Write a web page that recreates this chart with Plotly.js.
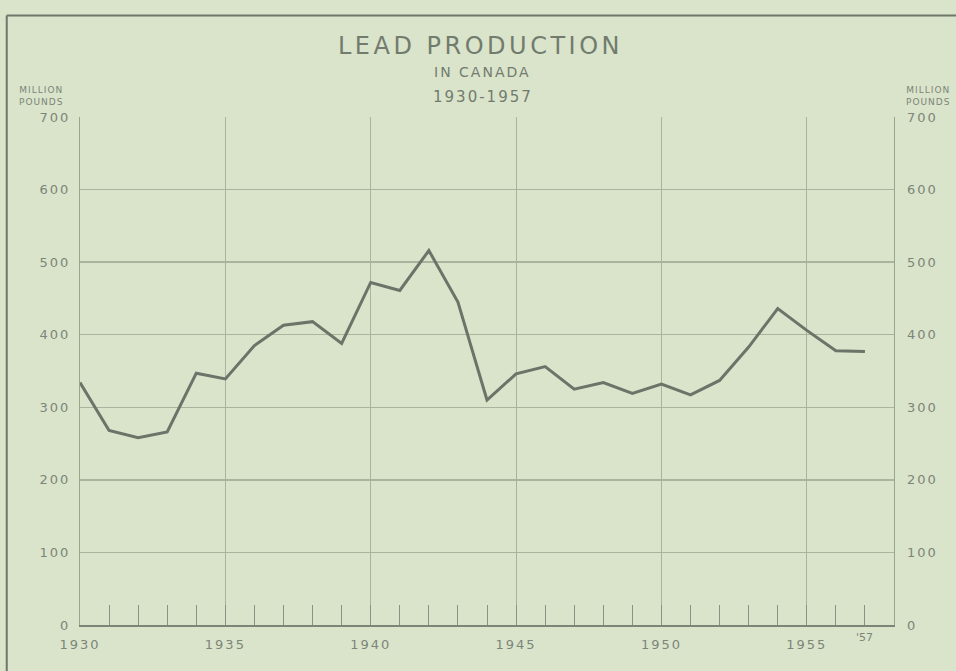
<!DOCTYPE html>
<html>
<head>
<meta charset="utf-8">
<script src="https://cdn.plot.ly/plotly-3.0.1.min.js"></script>
<style>
  html, body { margin: 0; padding: 0; background: #d9e4cb; }
  #chart { width: 956px; height: 671px; }
</style>
</head>
<body>
<div id="chart"></div>
<script>
// Data (million pounds)
const years = [1930,1931,1932,1933,1934,1935,1936,1937,1938,1939,1940,1941,1942,1943,
               1944,1945,1946,1947,1948,1949,1950,1951,1952,1953,1954,1955,1956,1957];
const production = [334,268,258,266,347,339,385,413,418,388,472,461,516,445,
                    310,346,356,325,334,319,332,317,337,383,436,406,378,377];

const xTickYears = years;
const xTickLabels = years.map(y => (y % 5 === 0 ? String(y) : ''));
const majorYears = [1935,1940,1945,1950,1955];
const yTicks = [0,100,200,300,400,500,600,700];
const yTickLabels = ['0','100','200','300','400','500','600','700'];

const sp = (t, px) => '<span style="letter-spacing:' + px + 'px">' + t + '</span>';

const ink = '#6c7368';
const gridCol = '#a9b49e';
const textCol = '#7d8579';
const bg = '#d9e4cb';
const fontFam = '"DejaVu Sans", "Liberation Sans", sans-serif';

const trace = {
  x: years, y: production, type: 'scatter', mode: 'lines',
  line: { color: ink, width: 3 }, xaxis: 'x', yaxis: 'y',
  hoverinfo: 'x+y'
};
const traceRight = {
  x: [years[0]], y: [production[0]], type: 'scatter', mode: 'lines',
  line: { width: 0 }, xaxis: 'x', yaxis: 'y2', showlegend: false, hoverinfo: 'skip'
};
const traceGrid = {
  x: [years[0]], y: [production[0]], type: 'scatter', mode: 'lines',
  line: { width: 0 }, xaxis: 'x2', yaxis: 'y', showlegend: false, hoverinfo: 'skip'
};

const layout = {
  width: 956, height: 671,
  paper_bgcolor: bg, plot_bgcolor: bg,
  margin: { l: 80, r: 62, t: 117, b: 46 },
  showlegend: false,
  font: { family: fontFam, color: textCol, size: 13 },
  xaxis: {
    range: [1930, 1958],
    tickvals: xTickYears, ticktext: xTickLabels.map(t => t ? sp(t, 2) : ''),
    ticks: 'inside', ticklen: 20, tickwidth: 1, tickcolor: '#8a9385',
    showgrid: false, zeroline: false,
    showline: true, linecolor: '#7c8577', linewidth: 2,
    tickfont: { size: 13, color: textCol, family: fontFam },
    ticklabelstandoff: 6
  },
  xaxis2: {
    range: [1930, 1958], overlaying: 'x', matches: 'x',
    tickvals: majorYears, showticklabels: false, ticks: '',
    showgrid: true, gridcolor: gridCol, gridwidth: 1,
    zeroline: false, showline: false
  },
  yaxis: {
    range: [0, 700],
    tickvals: yTicks, ticktext: yTickLabels.map(t => sp(t, 2)),
    ticks: '', showgrid: true, gridcolor: gridCol, gridwidth: 1.5,
    zeroline: false, showline: true, linecolor: '#9aa590', linewidth: 1, mirror: true,
    tickfont: { size: 13, color: textCol, family: fontFam },
    ticklabelstandoff: 6
  },
  yaxis2: {
    range: [0, 700], overlaying: 'y', side: 'right',
    tickvals: yTicks, ticktext: yTickLabels.map(t => sp(t, 2)),
    ticks: '', showgrid: false, zeroline: false, showline: false,
    tickfont: { size: 13, color: textCol, family: fontFam },
    ticklabelstandoff: 12
  },
  annotations: [
    { text: sp('LEAD PRODUCTION', 3.5), xref: 'paper', yref: 'paper', x: 0.492, y: 1.139,
      xanchor: 'center', yanchor: 'middle', showarrow: false,
      font: { size: 24, color: '#737b6e', family: fontFam } },
    { text: sp('IN CANADA', 2), xref: 'paper', yref: 'paper', x: 0.495, y: 1.089,
      xanchor: 'center', yanchor: 'middle', showarrow: false,
      font: { size: 14, color: '#737b6e', family: fontFam } },
    { text: sp('1930-1957', 2), xref: 'paper', yref: 'paper', x: 0.495, y: 1.04,
      xanchor: 'center', yanchor: 'middle', showarrow: false,
      font: { size: 15, color: '#737b6e', family: fontFam } },
    { text: sp('MILLION', 1) + '<br>' + sp('POUNDS', 1), xref: 'paper', yref: 'paper', x: -0.048, y: 1.041,
      xanchor: 'center', yanchor: 'middle', showarrow: false, align: 'center',
      font: { size: 9, color: textCol, family: fontFam } },
    { text: sp('MILLION', 1) + '<br>' + sp('POUNDS', 1), xref: 'paper', yref: 'paper', x: 1.042, y: 1.041,
      xanchor: 'center', yanchor: 'middle', showarrow: false, align: 'center',
      font: { size: 9, color: textCol, family: fontFam } },
    { text: "'57", xref: 'x', yref: 'paper', x: 1957, y: -0.025,
      xanchor: 'center', yanchor: 'middle', showarrow: false,
      font: { size: 11, color: textCol, family: fontFam } }
  ],
  shapes: [
    { type: 'line', xref: 'paper', yref: 'paper', x0: -0.09, x1: 1.2, y0: 1.2, y1: 1.2,
      line: { color: '#6f776a', width: 2 } },
    { type: 'line', xref: 'paper', yref: 'paper', x0: -0.09, x1: -0.09, y0: 1.2, y1: -0.2,
      line: { color: '#6f776a', width: 2 } }
  ]
};

Plotly.newPlot('chart', [traceGrid, traceRight, trace], layout, { displayModeBar: false, staticPlot: true });
</script>
</body>
</html>
